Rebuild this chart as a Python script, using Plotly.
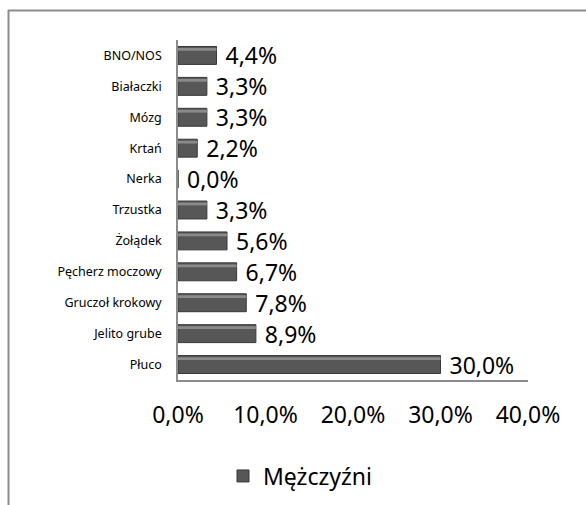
import plotly.graph_objects as go

# Cancer sites among men (share of cases, %)
categories = ["BNO/NOS", "Białaczki", "Mózg", "Krtań", "Nerka", "Trzustka",
              "Żołądek", "Pęcherz moczowy", "Gruczoł krokowy", "Jelito grube", "Płuco"]
values = [4.4, 3.3, 3.3, 2.2, 0.0, 3.3, 5.6, 6.7, 7.8, 8.9, 30.0]
series_name = "Mężczyźni"
x_ticks = [0, 10, 20, 30, 40]
x_tick_labels = ["0,0%", "10,0%", "20,0%", "30,0%", "40,0%"]

W, H = 586, 505
ML, MR, MT, MB = 178, 58, 40, 125
PW, PH = W - ML - MR, H - MT - MB
FONT = "Noto Sans"
BAR_W = 0.58


def px_x(p):
    return (p - ML) / PW


def px_y(p):
    return (H - MB - p) / PH


# value labels, with a leading space to keep them clear of the bar ends
labels = [" " + f"{v:.1f}%".replace(".", ",") for v in values]

fig = go.Figure()
fig.add_trace(go.Bar(
    x=values, y=categories, orientation="h", name=series_name,
    width=BAR_W, offset=-BAR_W / 2,
    marker=dict(color="#575757", line=dict(color="#383838", width=1)),
    text=labels, textposition="outside", cliponaxis=False,
    constraintext="none",
    textfont=dict(family=FONT, size=23, color="#000000"),
    showlegend=True,
))
# light bevel along the upper edge of each bar
fig.add_trace(go.Bar(
    x=values, y=categories, orientation="h", name=series_name,
    width=0.09, offset=-BAR_W / 2 + 0.05,
    marker=dict(color="#8a8a8a", line=dict(width=0)),
    showlegend=False, hoverinfo="skip",
))

# outer chart frame (top and left edges visible)
fig.add_shape(type="line", xref="paper", yref="paper",
              x0=px_x(8), x1=px_x(W + 5), y0=px_y(10.5), y1=px_y(10.5),
              line=dict(color="#8c8c8c", width=2))
fig.add_shape(type="line", xref="paper", yref="paper",
              x0=px_x(8.5), x1=px_x(8.5), y0=px_y(10), y1=px_y(H + 5),
              line=dict(color="#8c8c8c", width=2))

fig.update_layout(
    width=W, height=H,
    margin=dict(l=ML, r=MR, t=MT, b=MB, autoexpand=False),
    paper_bgcolor="white", plot_bgcolor="white",
    font=dict(family=FONT, color="#000000"),
    barmode="overlay",
    xaxis=dict(range=[0, 40], tickvals=x_ticks, ticktext=x_tick_labels,
               showgrid=False, zeroline=False, showline=True,
               linecolor="#8c8c8c", linewidth=1.5, ticks="",
               tickfont=dict(family=FONT, size=23),
               ticklabelstandoff=14, automargin=False),
    yaxis=dict(autorange="reversed", showgrid=False, zeroline=False,
               showline=True, linecolor="#8c8c8c", linewidth=1.5, ticks="",
               tickfont=dict(family=FONT, size=12.5),
               ticklabelstandoff=12, automargin=False),
    legend=dict(orientation="h", x=px_x(223), y=px_y(476), yanchor="middle",
                xanchor="left", itemwidth=30,
                font=dict(family=FONT, size=23)),
)

fig.write_html("out.html")
